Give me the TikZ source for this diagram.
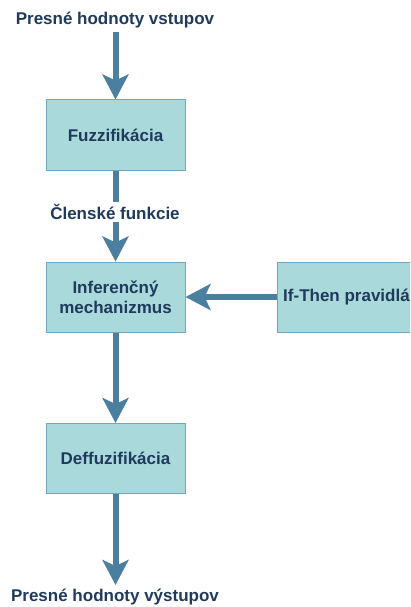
\documentclass[tikz,border=0pt]{standalone}
\usepackage{fontspec}
\setmainfont{Liberation Sans}
\usetikzlibrary{arrows.meta}
\definecolor{boxfill}{HTML}{A9D9DA}
\definecolor{boxline}{HTML}{6FA6C2}
\definecolor{arrowc}{HTML}{4A7FA0}
\definecolor{txt}{HTML}{1F3A5C}
\tikzset{
  procbox/.style={draw=boxline, line width=1pt, fill=boxfill, minimum width=139pt, minimum height=70pt, inner sep=2pt, align=center, font=\bfseries\fontsize{17pt}{20pt}\selectfont, text=txt},
  plain/.style={font=\bfseries\fontsize{17pt}{20pt}\selectfont, text=txt, inner sep=1pt},
  flow/.style={draw=arrowc, line width=6pt, -{Stealth[length=25pt, width=26pt, inset=6pt]}},
}
\begin{document}
\begin{tikzpicture}[x=1pt,y=-1pt]
\useasboundingbox (0,0) rectangle (410,607);
\clip (0,0) rectangle (410,607);
\node[plain] (in) at (115,20) {Presné hodnoty vstupov};
\coordinate (inS) at (115.5,32);
\node[procbox] (fuz) at (115.5,135) {Fuzzifikácia};
\node[procbox] (inf) at (115.5,297) {Inferenčný\\mechanizmus};
\node[procbox] (ift) at (346.5,297) {If-Then pravidlá};
\node[procbox] (def) at (115.5,458.5) {Deffuzifikácia};
\node[plain] (out) at (115,597) {Presné hodnoty výstupov};
\coordinate (outN) at (115.5,585);
\draw[flow] (inS) -- (fuz.north);
\draw[flow] (fuz.south) -- (inf.north);
\node[plain, fill=white, inner sep=2pt] (mf) at (115,212) {Členské funkcie};
\draw[flow] (ift.west) -- (inf.east);
\draw[flow] (inf.south) -- (def.north);
\draw[flow] (def.south) -- (outN);
\end{tikzpicture}
\end{document}
